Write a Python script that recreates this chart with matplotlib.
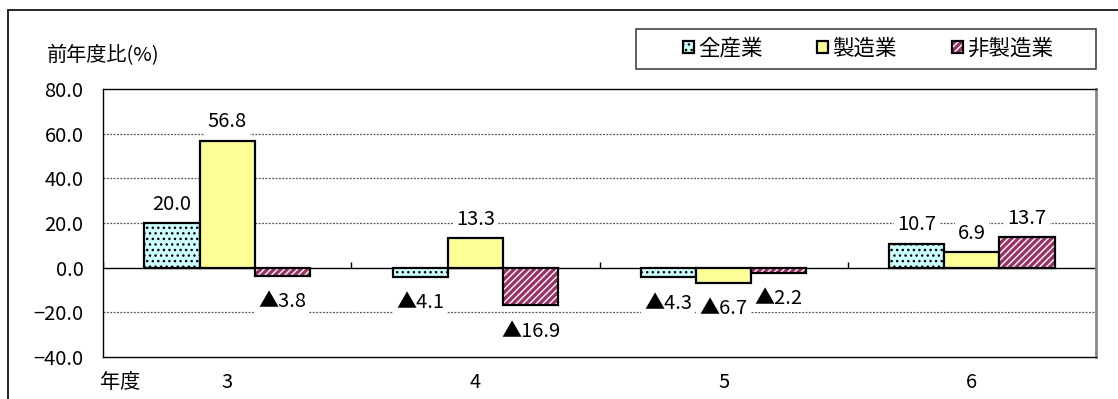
import numpy as np
import matplotlib
matplotlib.use("Agg")
import matplotlib.pyplot as plt
from matplotlib.patches import Patch, Rectangle

plt.rcParams['font.family'] = ['Noto Sans CJK JP', 'DejaVu Sans']
plt.rcParams['hatch.linewidth'] = 1.0

# 設備投資 前年度比(%)
nendo = ['3', '4', '5', '6']
zen_sangyo = [20.0, -4.1, -4.3, 10.7]
seizo = [56.8, 13.3, -6.7, 6.9]
hi_seizo = [-3.8, -16.9, -2.2, 13.7]
series_names = ['全産業', '製造業', '非製造業']

W, H = 1118, 399
fig = plt.figure(figsize=(W / 100, H / 100), dpi=100)
ax = fig.add_axes([103 / W, 1 - 357 / H, (1096 - 103) / W, (357 - 89) / H])

x = np.arange(len(nendo))
w = 1 / 4.5

# 全産業: 水色にドット
ax.bar(x - w, zen_sangyo, w, color='#CCFFFF', edgecolor='black', hatch='...',
       linewidth=1.6, zorder=3)
# 製造業: 薄い黄色
ax.bar(x, seizo, w, color='#FFFF99', edgecolor='black', linewidth=1.6, zorder=3)
# 非製造業: 赤紫に白の斜線 (斜線と枠線を別々に描く)
ax.bar(x + w, hi_seizo, w, color='#993366', edgecolor='white', hatch='/////',
       linewidth=0, zorder=3)
ax.bar(x + w, hi_seizo, w, fill=False, edgecolor='black', linewidth=1.6, zorder=4)

# 数値ラベル (マイナスは▲表示)
for offs, vals in [(-w, zen_sangyo), (0, seizo), (w, hi_seizo)]:
    for xi, v in zip(x, vals):
        if v >= 0:
            txt, dy, va = f'{v:.1f}', 6, 'bottom'
        else:
            txt, dy, va = f'▲{abs(v):.1f}', -11, 'top'
        ax.annotate(txt, (xi + offs, v), xytext=(0, dy), textcoords='offset points',
                    ha='center', va=va, fontsize=14.5,
                    bbox=dict(boxstyle='square,pad=0.15', fc='white', ec='none'),
                    zorder=5)

ax.set_xlim(-0.5, len(nendo) - 0.5)
ax.set_ylim(-40, 80)
ax.set_yticks(np.arange(-40, 81, 20))
ax.set_yticklabels([f'{t:.1f}'.replace('-', '−') for t in np.arange(-40, 81, 20)])
ax.tick_params(axis='y', length=0, pad=14, labelsize=14.5)
ax.set_xticks(x)
ax.set_xticklabels(nendo)
ax.tick_params(axis='x', length=0, pad=11, labelsize=14.5)

for gy in [-20, 20, 40, 60]:
    ax.axhline(gy, color='#555555', linestyle=(0, (1.5, 1.2)), linewidth=0.9, zorder=1)
ax.axhline(0, color='black', linewidth=1.0, zorder=2)
# 年度の区切り目盛り
ax.vlines(np.arange(len(nendo) + 1) - 0.5, 0, 2.5, color='black', linewidth=1.0, zorder=2)

for s in ['left', 'top', 'bottom']:
    ax.spines[s].set_color('black')
    ax.spines[s].set_linewidth(1.0)
ax.spines['right'].set_color('#888888')
ax.spines['right'].set_linewidth(2.0)

fig.text(47 / W, 1 - 56 / H, '前年度比(%)', fontsize=14.5, va='center', ha='left')
fig.text(100 / W, 1 - 383 / H, '年度', fontsize=14.5, va='center', ha='left')

# 凡例
handles = [
    Patch(facecolor='#CCFFFF', edgecolor='black', hatch='...', linewidth=1.6),
    Patch(facecolor='#FFFF99', edgecolor='black', linewidth=1.6),
    (Patch(facecolor='#993366', edgecolor='white', hatch='/////', linewidth=0),
     Patch(fill=False, edgecolor='black', linewidth=1.6)),
]
ax.legend(handles, series_names, ncol=3, loc='center',
          bbox_to_anchor=(868 / W, 1 - 49 / H), bbox_transform=fig.transFigure,
          frameon=False, fontsize=15.5, handlelength=0.5, handleheight=0.5,
          handletextpad=0.2, columnspacing=2.55)
fig.add_artist(Rectangle((636 / W, 1 - 69 / H), (1096 - 636) / W, 40 / H,
                         transform=fig.transFigure, fill=False,
                         edgecolor='#444444', linewidth=1.2))

# 外枠
fig.add_artist(Rectangle((8 / W, -0.1), 1.2, 1 - 10 / H + 0.1,
                         transform=fig.transFigure, fill=False,
                         edgecolor='black', linewidth=1.2))

fig.savefig('out.png', dpi=100)
